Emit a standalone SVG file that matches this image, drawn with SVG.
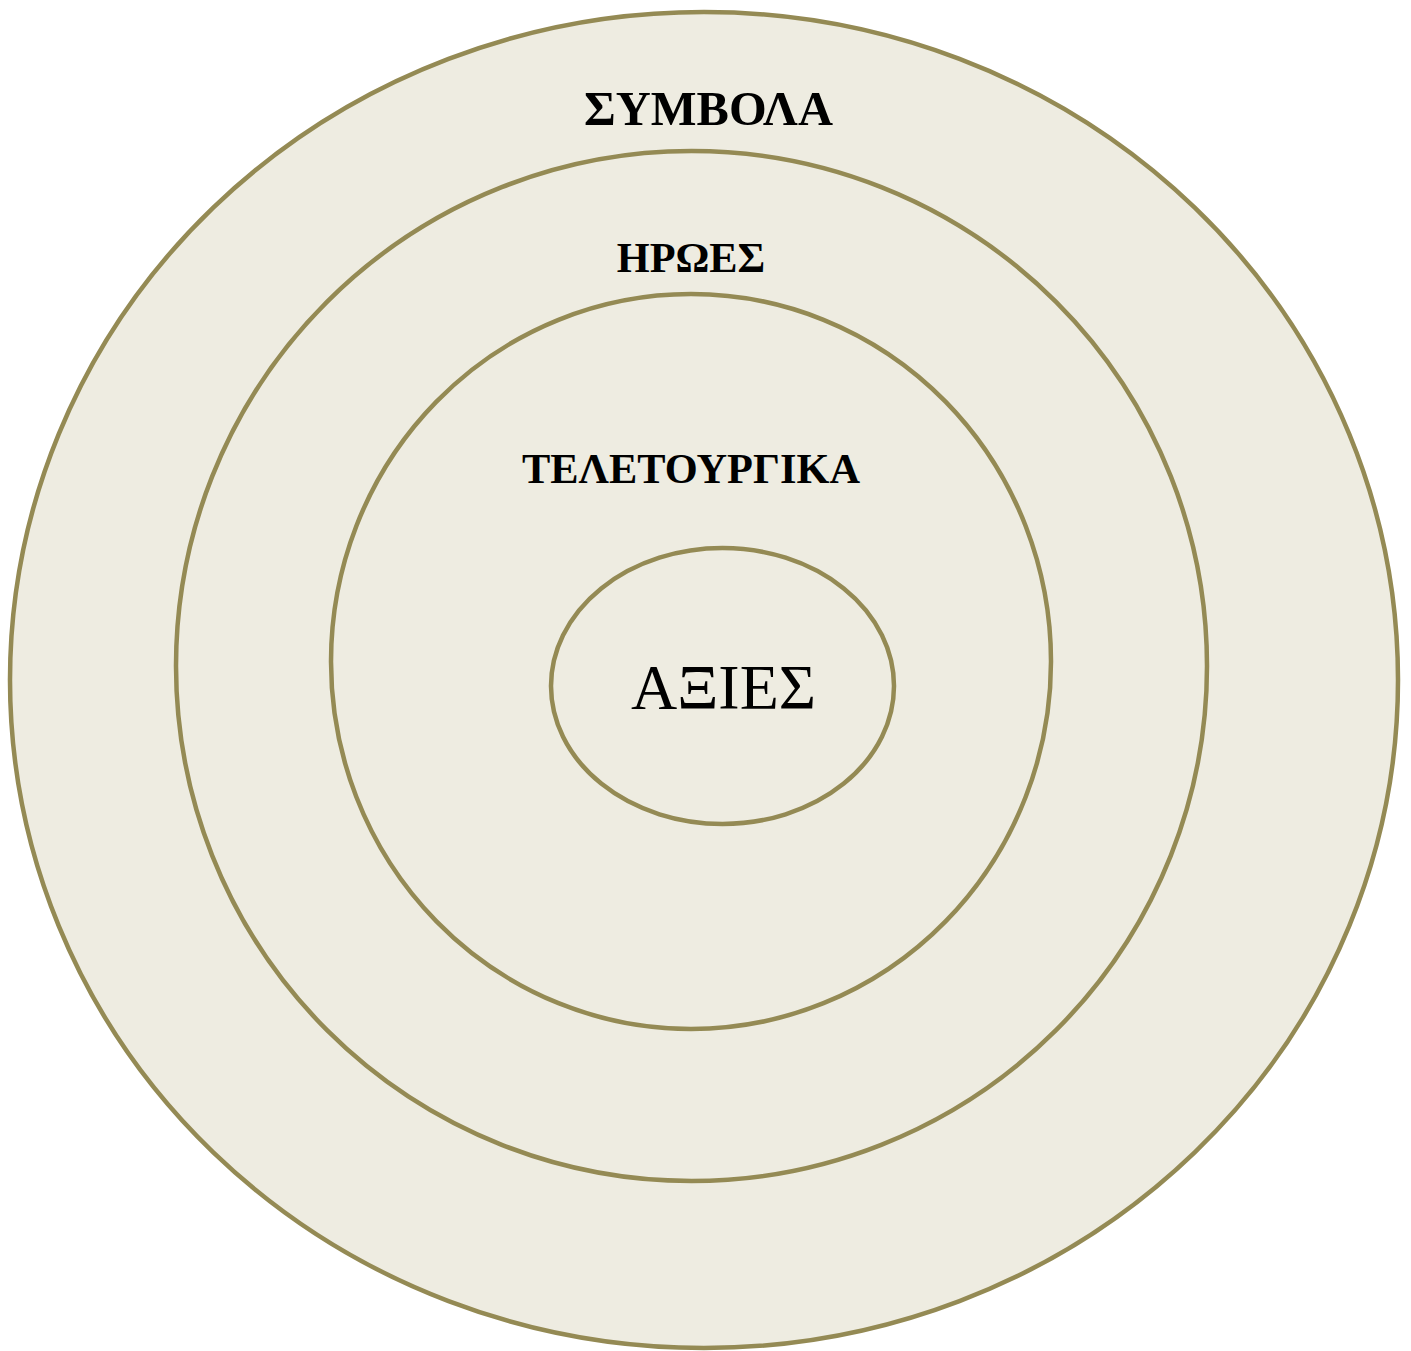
<svg xmlns="http://www.w3.org/2000/svg" width="1411" height="1351" viewBox="0 0 1411 1351">
<style>
.ring{fill:#EEECE1;stroke:#948A54;stroke-width:4.5}
.lbl{font-family:"Liberation Serif","Times New Roman",serif;font-weight:bold;fill:#000;text-anchor:middle}
.core{font-family:"Liberation Serif","Times New Roman",serif;fill:#000;text-anchor:middle}
</style>
<rect width="1411" height="1351" fill="#fff"/>
<g id="symbola">
<ellipse class="ring" cx="704" cy="680" rx="694" ry="668"/>
<text class="lbl" x="708.5" y="125" font-size="48.5">ΣΥΜΒΟΛΑ</text>
</g>
<g id="iroes">
<ellipse class="ring" cx="691.5" cy="666" rx="515.5" ry="515"/>
<text class="lbl" x="691" y="272" font-size="42.3">ΗΡΩΕΣ</text>
</g>
<g id="teletourgika">
<ellipse class="ring" cx="691" cy="661.5" rx="360" ry="367.5"/>
<text class="lbl" x="691" y="483" font-size="42.5" textLength="338" lengthAdjust="spacingAndGlyphs">ΤΕΛΕΤΟΥΡΓΙΚΑ</text>
</g>
<g id="axies">
<ellipse class="ring" cx="722.5" cy="686" rx="171.5" ry="138"/>
<text class="core" x="723.5" y="709" font-size="64">ΑΞΙΕΣ</text>
</g>
<g id="connectors"/>
</svg>
